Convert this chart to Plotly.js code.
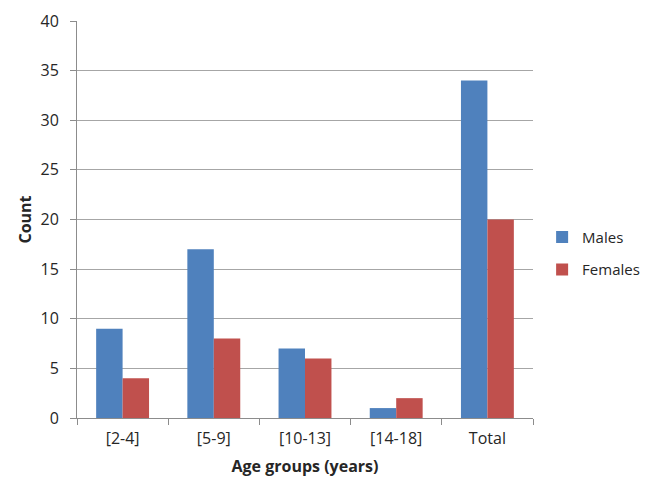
<!DOCTYPE html>
<html>
<head>
<meta charset="utf-8">
<script src="https://cdn.plot.ly/plotly-3.0.1.min.js"></script>
<style>
    body { margin: 0; background: #fff; }
    #chart { width: 661px; height: 496px; }
</style>
</head>
<body>
<div id="chart"></div>
<script>
    const categories = ['[2-4]', '[5-9]', '[10-13]', '[14-18]', 'Total'];
    const males = [9, 17, 7, 1, 34];
    const females = [4, 8, 6, 2, 20];
    const yTicks = [0, 5, 10, 15, 20, 25, 30, 35, 40];

    const font = 'Open Sans, Liberation Sans, sans-serif';

    const traces = [
        {
            type: 'bar', x: categories, y: males, name: 'Males',
            marker: { color: '#4F81BD' }, legendgroup: 'm'
        },
        {
            type: 'bar', x: categories, y: females, name: 'Females',
            marker: { color: '#C0504D' }, legendgroup: 'f'
        }
    ];

    const layout = {
        width: 661, height: 496,
        margin: { l: 77, r: 128, t: 21, b: 78 },
        paper_bgcolor: '#fff', plot_bgcolor: '#fff',
        font: { family: font, size: 16, color: '#262626' },
        barmode: 'group', bargap: 0.42, bargroupgap: 0,
        xaxis: {
            type: 'category',
            tickson: 'boundaries',
            ticks: 'outside', ticklen: 6, tickcolor: '#8c8c8c',
            ticklabelstandoff: 6,
            showline: true, linecolor: '#8c8c8c', linewidth: 1,
            showgrid: false,
            title: { text: '<b>Age groups (years)</b>', font: { size: 16 }, standoff: 12 }
        },
        yaxis: {
            range: [0, 40],
            tickvals: yTicks,
            ticks: 'outside', ticklen: 6, tickcolor: '#8c8c8c',
            ticklabelstandoff: 8,
            showline: true, linecolor: '#8c8c8c', linewidth: 1,
            gridcolor: '#a6a6a6', gridwidth: 1,
            zeroline: false,
            title: { text: '<b>Count</b>', font: { size: 16 }, standoff: 4 }
        },
        legend: {
            x: 1.02, y: 0.415, yanchor: 'middle',
            traceorder: 'grouped', tracegroupgap: 10,
            itemwidth: 30,
            font: { size: 15 }
        },
        showlegend: true
    };

    Plotly.newPlot('chart', traces, layout, { displayModeBar: false });
</script>
</body>
</html>
